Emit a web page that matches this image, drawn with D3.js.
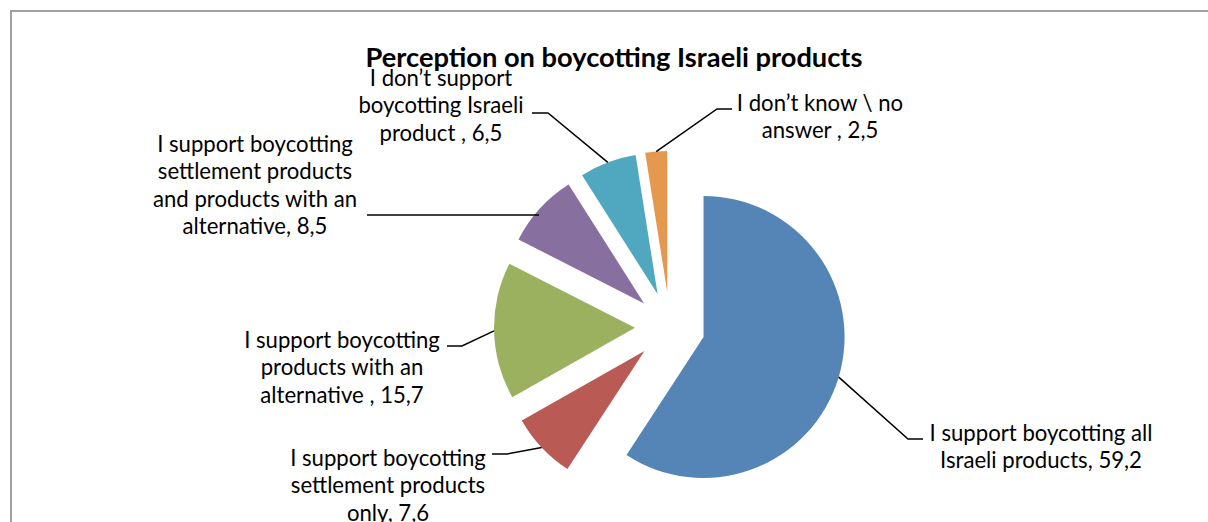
<!DOCTYPE html>
<html>
<head>
<meta charset="utf-8">
<script src="https://cdn.jsdelivr.net/npm/d3@7"></script>
<style>
  html, body { margin: 0; padding: 0; background: #fff; }
  svg { display: block; }
</style>
</head>
<body>
<svg id="chart" width="1208" height="522"></svg>
<script>
// ---- data ----
const title = "Perception on boycotting Israeli products";
const categories = [
  "I support boycotting all Israeli products",
  "I support boycotting settlement products only",
  "I support boycotting products with an alternative ",
  "I support boycotting settlement products and products with an alternative",
  "I don\u2019t support boycotting Israeli product ",
  "I don\u2019t know \\ no answer "
];
const values = [59.2, 7.6, 15.7, 8.5, 6.5, 2.5];
const colors = ["#5585B6", "#B95B54", "#9CB160", "#8770A0", "#4FA8BF", "#E4994F"];
// words per wrapped label line
const wrapCounts = [[4, 3], [3, 2, 2], [3, 3, 3], [3, 2, 4, 2], [3, 2, 3], [5, 3]];

// ---- layout ----
const W = 1208, H = 522;
const cx = 670, cy = 327, radius = 141, explode = 35;
const fontFamily = "Lato, 'Open Sans', sans-serif";
const lineHeight = 27.5;
// label block: centre x, first line centre y
const labelPos = [[1041, 432], [388, 457], [342, 339], [255, 143], [441, 77], [820, 102]];
// leader knee and end points
const leaderKnee = [[908, 439], [507, 454], [462, 346], [539, 215], [548, 113], [717, 109]];
const leaderEnd  = [[923, 439], [492, 454], [447, 346], [367, 215], [532, 113], [732, 109]];

const svg = d3.select("#chart");

// frame
svg.append("rect")
  .attr("x", 11).attr("y", 11)
  .attr("width", W + 20).attr("height", H + 20)
  .attr("fill", "#fff").attr("stroke", "#A0A0A0").attr("stroke-width", 2);

// fit font sizes to the reference text widths
function fitSize(text, weight, targetWidth) {
  const t = svg.append("text").attr("font-family", fontFamily)
    .attr("font-weight", weight).attr("font-size", 100).text(text);
  const w = t.node().getComputedTextLength();
  t.remove();
  return 100 * targetWidth / w;
}
const titleSize = fitSize(title, "bold", 497);
const labelSize = fitSize("I support boycotting all", "normal", 223);

svg.append("text")
  .attr("x", 614).attr("y", 56)
  .attr("text-anchor", "middle").attr("dominant-baseline", "central")
  .attr("font-family", fontFamily).attr("font-weight", "bold")
  .attr("font-size", titleSize).attr("fill", "#000")
  .text(title);

const pie = d3.pie().sort(null).value(d => d)(values);
const arc = d3.arc().innerRadius(0).outerRadius(radius);

const g = svg.append("g").attr("transform", `translate(${cx},${cy})`);

pie.forEach((p, i) => {
  const mid = (p.startAngle + p.endAngle) / 2;
  const dx = Math.sin(mid) * explode, dy = -Math.cos(mid) * explode;
  g.append("path")
    .attr("d", arc(p))
    .attr("transform", `translate(${dx},${dy})`)
    .attr("fill", colors[i]);

  // leader from outer arc mid point (skipped when the knee already sits on the slice)
  const ox = cx + Math.sin(mid) * (explode + radius);
  const oy = cy - Math.cos(mid) * (explode + radius);
  const pts = [];
  if (Math.hypot(ox - leaderKnee[i][0], oy - leaderKnee[i][1]) > 10) pts.push([ox, oy]);
  pts.push(leaderKnee[i], leaderEnd[i]);
  svg.append("path")
    .attr("d", d3.line()(pts))
    .attr("fill", "none").attr("stroke", "#000").attr("stroke-width", 1.5);

  // label
  const full = categories[i] + ", " + String(values[i]).replace(".", ",");
  const words = full.split(/\s+/).filter(w => w.length);
  const lines = [];
  let k = 0;
  wrapCounts[i].forEach(n => { lines.push(words.slice(k, k + n).join(" ")); k += n; });
  const t = svg.append("text")
    .attr("text-anchor", "middle")
    .attr("font-family", fontFamily).attr("font-size", labelSize).attr("fill", "#000");
  lines.forEach((ln, j) => {
    t.append("tspan")
      .attr("x", labelPos[i][0])
      .attr("y", labelPos[i][1] + j * lineHeight)
      .attr("dominant-baseline", "central")
      .text(ln);
  });
});
</script>
</body>
</html>
